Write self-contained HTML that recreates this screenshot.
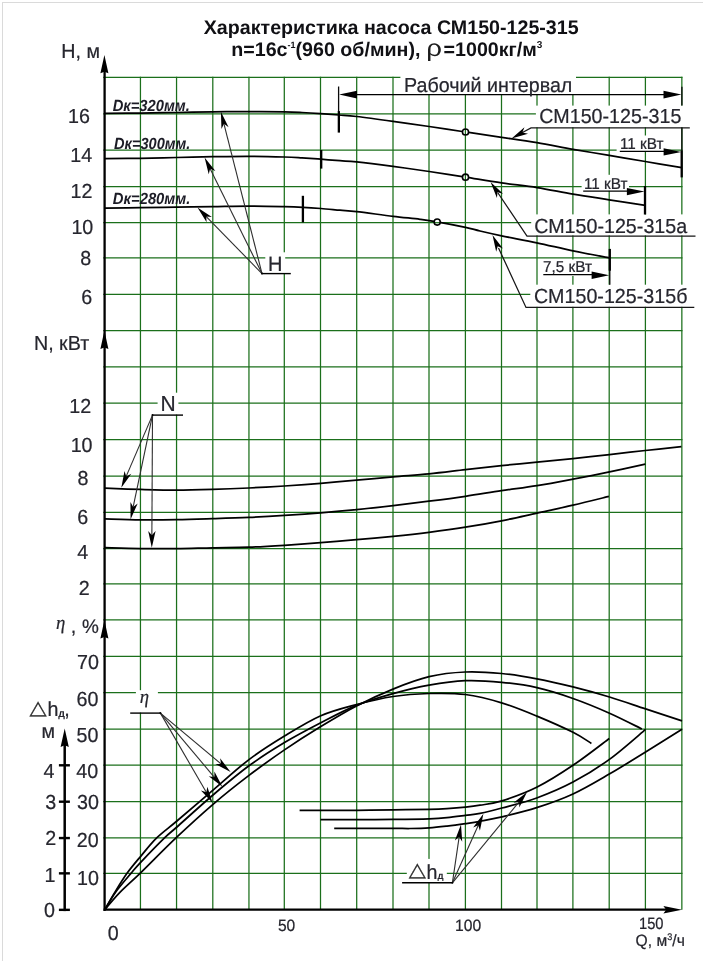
<!DOCTYPE html>
<html lang="ru">
<head>
<meta charset="utf-8">
<title>Характеристика насоса СМ150-125-315</title>
<style>
html,body{margin:0;padding:0;background:#fff;}
body{width:705px;height:963px;overflow:hidden;position:relative;font-family:"Liberation Sans",Arial,sans-serif;}
#chart{position:absolute;left:0;top:0;width:705px;height:963px;background:#fff;}
#chart svg{display:block;position:absolute;left:0;top:0;}
#frame{position:absolute;left:2px;top:2px;width:701px;height:959px;box-sizing:border-box;border-top:1px solid #dadada;border-left:1px solid #dadada;pointer-events:none;}
text{text-rendering:geometricPrecision;white-space:pre;}
</style>
</head>
<body>
<div id="chart">
<svg width="705" height="963" viewBox="0 0 705 963" role="img" aria-label="Характеристика насоса СМ150-125-315">
<g id="grid" stroke="#1b6f1b" stroke-width="1.25" fill="none"><line x1="140.45" y1="76.85" x2="140.45" y2="909.75"/><line x1="176.55" y1="76.85" x2="176.55" y2="909.75"/><line x1="212.80" y1="76.85" x2="212.80" y2="909.75"/><line x1="248.95" y1="76.85" x2="248.95" y2="909.75"/><line x1="284.30" y1="76.85" x2="284.30" y2="909.75"/><line x1="320.50" y1="76.85" x2="320.50" y2="909.75"/><line x1="356.70" y1="76.85" x2="356.70" y2="909.75"/><line x1="393.00" y1="76.85" x2="393.00" y2="909.75"/><line x1="429.00" y1="76.85" x2="429.00" y2="909.75"/><line x1="465.40" y1="76.85" x2="465.40" y2="909.75"/><line x1="501.50" y1="76.85" x2="501.50" y2="909.75"/><line x1="537.00" y1="76.85" x2="537.00" y2="909.75"/><line x1="572.90" y1="76.85" x2="572.90" y2="909.75"/><line x1="609.20" y1="76.85" x2="609.20" y2="909.75"/><line x1="645.40" y1="76.85" x2="645.40" y2="909.75"/><line x1="681.85" y1="76.85" x2="681.85" y2="909.75"/><line x1="103.25" y1="77.45" x2="682.45" y2="77.45"/><line x1="103.25" y1="113.85" x2="682.45" y2="113.85"/><line x1="103.25" y1="150.15" x2="682.45" y2="150.15"/><line x1="103.25" y1="186.55" x2="682.45" y2="186.55"/><line x1="103.25" y1="222.70" x2="682.45" y2="222.70"/><line x1="103.25" y1="257.90" x2="682.45" y2="257.90"/><line x1="103.25" y1="294.40" x2="682.45" y2="294.40"/><line x1="103.25" y1="330.70" x2="682.45" y2="330.70"/><line x1="103.25" y1="366.90" x2="682.45" y2="366.90"/><line x1="103.25" y1="403.20" x2="682.45" y2="403.20"/><line x1="103.25" y1="439.50" x2="682.45" y2="439.50"/><line x1="103.25" y1="476.00" x2="682.45" y2="476.00"/><line x1="103.25" y1="512.45" x2="682.45" y2="512.45"/><line x1="103.25" y1="548.60" x2="682.45" y2="548.60"/><line x1="103.25" y1="583.75" x2="682.45" y2="583.75"/><line x1="103.25" y1="619.95" x2="682.45" y2="619.95"/><line x1="103.25" y1="656.30" x2="682.45" y2="656.30"/><line x1="103.25" y1="692.65" x2="682.45" y2="692.65"/><line x1="103.25" y1="729.00" x2="682.45" y2="729.00"/><line x1="103.25" y1="765.20" x2="682.45" y2="765.20"/><line x1="103.25" y1="801.60" x2="682.45" y2="801.60"/><line x1="103.25" y1="837.95" x2="682.45" y2="837.95"/><line x1="103.25" y1="873.25" x2="682.45" y2="873.25"/></g>
<g id="masks" fill="#fff">
<rect x="400.40" y="74.00" width="175.60" height="20.00"/>
<rect x="535.90" y="105.60" width="154.10" height="21.70"/>
<rect x="531.20" y="214.40" width="159.80" height="21.00"/>
<rect x="530.30" y="284.70" width="160.70" height="22.10"/>
<rect x="616.60" y="135.50" width="47.40" height="15.50"/>
<rect x="581.60" y="174.80" width="47.40" height="16.00"/>
<rect x="541.50" y="259.50" width="51.50" height="16.50"/>
<rect x="265.30" y="252.30" width="19.90" height="20.70"/>
<rect x="157.60" y="392.70" width="20.80" height="21.90"/>
<rect x="135.90" y="690.20" width="22.00" height="22.40"/>
<rect x="406.80" y="858.90" width="40.00" height="23.40"/>
</g>
<g stroke="#0a0a0a" stroke-width="1.3">
<line x1="338.6" y1="86.5" x2="338.6" y2="112"/>
<line x1="681.9" y1="86.8" x2="681.9" y2="105.6"/>
<line x1="681.9" y1="127.6" x2="681.9" y2="151"/>
<line x1="609.8" y1="270" x2="609.8" y2="284.7"/>
</g>
<g id="curves" fill="none" stroke="#000" stroke-width="1.75" stroke-linejoin="round">
<path d="M105.00 113.40C110.90 113.35 128.47 113.25 140.40 113.10C152.33 112.95 164.55 112.72 176.60 112.50C188.65 112.28 200.63 111.95 212.70 111.80C224.77 111.65 237.07 111.58 249.00 111.60C260.93 111.62 275.47 111.75 284.30 111.90C293.13 112.05 295.95 112.22 302.00 112.50C308.05 112.78 314.43 113.18 320.60 113.60C326.77 114.02 332.98 114.52 339.00 115.00C345.02 115.48 347.70 115.45 356.70 116.50C365.70 117.55 380.92 119.63 393.00 121.30C405.08 122.97 417.12 124.72 429.20 126.50C441.28 128.28 453.43 130.20 465.50 132.00C477.57 133.80 489.68 135.52 501.60 137.30C513.52 139.08 525.10 140.70 537.00 142.70C548.90 144.70 560.97 147.18 573.00 149.30C585.03 151.42 597.15 153.37 609.20 155.40C621.25 157.43 633.20 159.47 645.30 161.50C657.40 163.53 675.72 166.58 681.80 167.60"/>
<path d="M105.00 158.70C110.90 158.63 128.47 158.50 140.40 158.30C152.33 158.10 164.55 157.77 176.60 157.50C188.65 157.23 200.63 156.90 212.70 156.70C224.77 156.50 237.07 156.25 249.00 156.30C260.93 156.35 275.47 156.73 284.30 157.00C293.13 157.27 295.92 157.53 302.00 157.90C308.08 158.27 314.47 158.73 320.80 159.20C327.13 159.67 334.02 160.25 340.00 160.70C345.98 161.15 347.87 160.95 356.70 161.90C365.53 162.85 380.92 164.80 393.00 166.40C405.08 168.00 417.12 169.70 429.20 171.50C441.28 173.30 453.43 175.30 465.50 177.20C477.57 179.10 489.68 181.17 501.60 182.90C513.52 184.63 525.10 185.73 537.00 187.60C548.90 189.47 560.97 192.07 573.00 194.10C585.03 196.13 597.15 197.92 609.20 199.80C621.25 201.68 639.28 204.47 645.30 205.40"/>
<path d="M105.00 208.10C110.90 208.03 128.47 207.85 140.40 207.70C152.33 207.55 164.55 207.38 176.60 207.20C188.65 207.02 200.63 206.80 212.70 206.60C224.77 206.40 237.07 206.00 249.00 206.00C260.93 206.00 275.33 206.38 284.30 206.60C293.27 206.82 296.72 206.98 302.80 207.30C308.88 207.62 314.60 208.02 320.80 208.50C327.00 208.98 334.02 209.68 340.00 210.20C345.98 210.72 347.87 210.58 356.70 211.60C365.53 212.62 382.45 215.02 393.00 216.30C403.55 217.58 412.67 218.38 420.00 219.30C427.33 220.22 429.42 220.47 437.00 221.80C444.58 223.13 458.33 225.77 465.50 227.30C472.67 228.83 473.98 229.58 480.00 231.00C486.02 232.42 492.13 233.83 501.60 235.80C511.07 237.77 524.90 240.30 536.80 242.80C548.70 245.30 560.90 248.28 573.00 250.80C585.10 253.32 603.33 256.72 609.40 257.90"/>
<path d="M105.00 488.20C110.90 488.40 128.47 489.08 140.40 489.40C152.33 489.72 164.57 490.10 176.60 490.10C188.63 490.10 200.57 489.75 212.60 489.40C224.63 489.05 236.83 488.57 248.80 488.00C260.77 487.43 272.42 486.78 284.40 486.00C296.38 485.22 308.67 484.27 320.70 483.30C332.73 482.33 344.52 481.28 356.60 480.20C368.68 479.12 381.15 477.85 393.20 476.80C405.25 475.75 416.87 475.08 428.90 473.90C440.93 472.72 453.30 471.08 465.40 469.70C477.50 468.32 489.57 466.85 501.50 465.60C513.43 464.35 525.08 463.37 537.00 462.20C548.92 461.03 560.92 459.87 573.00 458.60C585.08 457.33 597.45 455.95 609.50 454.60C621.55 453.25 633.32 451.83 645.30 450.50C657.28 449.17 675.38 447.25 681.40 446.60"/>
<path d="M105.00 518.90C110.90 519.07 128.47 519.77 140.40 519.90C152.33 520.03 164.57 519.90 176.60 519.70C188.63 519.50 200.57 519.08 212.60 518.70C224.63 518.32 236.83 517.95 248.80 517.40C260.77 516.85 272.42 516.17 284.40 515.40C296.38 514.63 308.67 513.77 320.70 512.80C332.73 511.83 344.52 510.80 356.60 509.60C368.68 508.40 381.15 507.00 393.20 505.60C405.25 504.20 416.87 502.75 428.90 501.20C440.93 499.65 453.30 498.05 465.40 496.30C477.50 494.55 489.57 492.48 501.50 490.70C513.43 488.92 525.08 487.53 537.00 485.60C548.92 483.67 560.92 481.38 573.00 479.10C585.08 476.82 597.45 474.38 609.50 471.90C621.55 469.42 639.33 465.48 645.30 464.20"/>
<path d="M105.00 547.70C110.90 547.85 128.47 548.45 140.40 548.60C152.33 548.75 164.57 548.73 176.60 548.60C188.63 548.47 200.57 548.03 212.60 547.80C224.63 547.57 236.83 547.62 248.80 547.20C260.77 546.78 272.42 546.05 284.40 545.30C296.38 544.55 308.67 543.63 320.70 542.70C332.73 541.77 344.52 540.77 356.60 539.70C368.68 538.63 381.15 537.53 393.20 536.30C405.25 535.07 416.87 533.82 428.90 532.30C440.93 530.78 453.30 529.12 465.40 527.20C477.50 525.28 489.57 523.15 501.50 520.80C513.43 518.45 525.08 515.70 537.00 513.10C548.92 510.50 561.02 507.98 573.00 505.20C584.98 502.42 602.92 497.87 608.90 496.40"/>
<path d="M105.00 909.40C106.63 906.57 111.10 898.45 114.80 892.40C118.50 886.35 122.85 879.15 127.20 873.10C131.55 867.05 135.98 861.97 140.90 856.10C145.82 850.23 150.70 843.75 156.70 837.90C162.70 832.05 167.52 828.97 176.90 821.00C186.28 813.03 200.98 800.33 213.00 790.10C225.02 779.87 237.08 768.60 249.00 759.60C260.92 750.60 272.53 743.40 284.50 736.10C296.47 728.80 308.80 721.05 320.80 715.80C332.80 710.55 344.47 707.82 356.50 704.60C368.53 701.38 380.90 698.35 393.00 696.50C405.10 694.65 417.05 693.83 429.10 693.50C441.15 693.17 453.22 692.95 465.30 694.50C477.38 696.05 489.67 699.20 501.60 702.80C513.53 706.40 525.00 711.18 536.90 716.10C548.80 721.02 563.92 727.75 573.00 732.30C582.08 736.85 588.33 741.55 591.40 743.40"/>
<path d="M105.00 909.40C106.73 906.57 111.03 898.45 115.40 892.40C119.77 886.35 126.95 878.15 131.20 873.10C135.45 868.05 135.35 867.97 140.90 862.10C146.45 856.23 158.50 843.75 164.50 837.90C170.50 832.05 168.82 834.15 176.90 827.00C184.98 819.85 200.98 805.20 213.00 795.00C225.02 784.80 237.08 774.53 249.00 765.80C260.92 757.07 272.53 749.77 284.50 742.60C296.47 735.43 308.80 729.00 320.80 722.80C332.80 716.60 344.47 710.25 356.50 705.40C368.53 700.55 380.90 697.07 393.00 693.70C405.10 690.33 417.05 687.37 429.10 685.20C441.15 683.03 453.22 681.18 465.30 680.70C477.38 680.22 489.67 681.13 501.60 682.30C513.53 683.47 525.00 685.00 536.90 687.70C548.80 690.40 560.90 694.25 573.00 698.50C585.10 702.75 598.02 708.12 609.50 713.20C620.98 718.28 636.50 726.37 641.90 729.00"/>
<path d="M105.00 909.40C107.48 906.57 114.02 898.45 119.90 892.40C125.78 886.35 130.87 882.27 140.30 873.10C149.73 863.93 164.38 848.87 176.50 837.40C188.62 825.93 200.92 814.63 213.00 804.30C225.08 793.97 237.08 784.47 249.00 775.40C260.92 766.33 272.53 758.03 284.50 749.90C296.47 741.77 308.80 733.92 320.80 726.60C332.80 719.28 344.47 712.25 356.50 706.00C368.53 699.75 380.90 693.98 393.00 689.10C405.10 684.22 417.05 679.55 429.10 676.70C441.15 673.85 453.22 672.53 465.30 672.00C477.38 671.47 489.67 672.37 501.60 673.50C513.53 674.63 525.00 676.57 536.90 678.80C548.80 681.03 560.90 683.87 573.00 686.90C585.10 689.93 597.40 693.33 609.50 697.00C621.60 700.67 633.52 704.92 645.60 708.90C657.68 712.88 675.93 718.90 682.00 720.90"/>
<path d="M299.60 810.30C303.07 810.32 310.88 810.38 320.40 810.40C329.92 810.42 344.60 810.50 356.70 810.40C368.80 810.30 380.92 809.98 393.00 809.80C405.08 809.62 420.20 809.50 429.20 809.30C438.20 809.10 440.95 808.97 447.00 808.60C453.05 808.23 460.00 807.67 465.50 807.10C471.00 806.53 473.93 806.23 480.00 805.20C486.07 804.17 492.45 803.88 501.90 800.90C511.35 797.92 524.85 793.23 536.70 787.30C548.55 781.37 560.90 773.43 573.00 765.30C585.10 757.17 603.25 742.97 609.30 738.50"/>
<path d="M320.50 819.60C326.53 819.60 344.62 819.63 356.70 819.60C368.78 819.57 380.92 819.53 393.00 819.40C405.08 819.27 420.20 819.08 429.20 818.80C438.20 818.52 440.95 818.27 447.00 817.70C453.05 817.13 460.00 816.12 465.50 815.40C471.00 814.68 473.93 814.63 480.00 813.40C486.07 812.17 492.45 810.57 501.90 808.00C511.35 805.43 524.85 802.32 536.70 798.00C548.55 793.68 560.88 788.53 573.00 782.10C585.12 775.67 597.30 768.18 609.40 759.40C621.50 750.62 639.57 734.40 645.60 729.40"/>
<path d="M334.20 828.30C337.95 828.30 346.90 828.30 356.70 828.30C366.50 828.30 384.12 828.27 393.00 828.30C401.88 828.33 403.97 828.57 410.00 828.50C416.03 828.43 423.03 828.30 429.20 827.90C435.37 827.50 440.95 826.82 447.00 826.10C453.05 825.38 460.00 824.40 465.50 823.60C471.00 822.80 473.93 822.42 480.00 821.30C486.07 820.18 492.45 819.17 501.90 816.90C511.35 814.63 524.85 811.52 536.70 807.70C548.55 803.88 560.90 799.60 573.00 794.00C585.10 788.40 597.20 781.10 609.30 774.10C621.40 767.10 633.48 759.47 645.60 752.00C657.72 744.53 675.93 733.08 682.00 729.30"/>
</g>
<circle cx="465.5" cy="132.0" r="3.2" fill="#fff"/>
<line x1="465.40" y1="129.00" x2="465.40" y2="135.00" stroke="#1b6f1b" stroke-width="1.25"/>
<circle cx="465.5" cy="132.0" r="3.05" fill="none" stroke="#000" stroke-width="1.6"/>
<circle cx="465.5" cy="177.2" r="3.2" fill="#fff"/>
<line x1="465.40" y1="174.20" x2="465.40" y2="180.20" stroke="#1b6f1b" stroke-width="1.25"/>
<circle cx="465.5" cy="177.2" r="3.05" fill="none" stroke="#000" stroke-width="1.6"/>
<circle cx="437.2" cy="222.1" r="3.2" fill="#fff"/>
<line x1="434.20" y1="222.70" x2="440.20" y2="222.70" stroke="#1b6f1b" stroke-width="1.25"/>
<circle cx="437.2" cy="222.1" r="3.05" fill="none" stroke="#000" stroke-width="1.6"/>
<line x1="338.85" y1="111.10" x2="338.85" y2="132.60" stroke="#000" stroke-width="2.30"/>
<line x1="321.20" y1="150.00" x2="321.20" y2="168.60" stroke="#000" stroke-width="2.30"/>
<line x1="302.90" y1="195.80" x2="302.90" y2="222.40" stroke="#000" stroke-width="2.30"/>
<line x1="681.70" y1="150.60" x2="681.70" y2="177.40" stroke="#000" stroke-width="2.30"/>
<line x1="645.00" y1="186.00" x2="645.00" y2="214.50" stroke="#000" stroke-width="2.30"/>
<line x1="609.80" y1="248.90" x2="609.80" y2="270.70" stroke="#000" stroke-width="2.30"/>
<line x1="350" y1="94.6" x2="670" y2="94.6" stroke="#000" stroke-width="1.3"/>
<polygon points="339.10,94.60 357.00,90.80 357.00,94.60 357.00,98.40" fill="#000"/>
<polygon points="681.40,94.60 663.50,98.40 663.50,94.60 663.50,90.80" fill="#000"/>
<polyline points="689.8,127.9 531.0,127.9 522.0,132.8" fill="none" stroke="#161616" stroke-width="1.25"/>
<polygon points="511.50,138.60 524.45,127.27 522.40,132.62 528.01,133.76" fill="#000"/>
<polyline points="695.5,236.0 527.0,236.0 498.0,193.0" fill="none" stroke="#161616" stroke-width="1.25"/>
<polygon points="490.60,182.00 503.06,193.86 497.55,192.31 496.92,198.00" fill="#000"/>
<polyline points="694.3,307.4 526.0,307.4 498.5,247.9" fill="none" stroke="#161616" stroke-width="1.25"/>
<polygon points="492.50,234.90 502.91,248.60 497.71,246.19 496.19,251.70" fill="#000"/>
<line x1="619.8" y1="151.4" x2="667.2" y2="151.4" stroke="#000" stroke-width="1.3"/>
<polygon points="681.20,151.90 663.60,155.60 663.60,151.90 663.60,148.20" fill="#000"/>
<line x1="583.2" y1="191.2" x2="630.5" y2="191.2" stroke="#000" stroke-width="1.3"/>
<polygon points="644.50,191.60 626.90,195.30 626.90,191.60 626.90,187.90" fill="#000"/>
<line x1="543.3" y1="274.7" x2="595.2" y2="274.7" stroke="#000" stroke-width="1.3"/>
<polygon points="609.20,275.30 591.60,279.00 591.60,275.30 591.60,271.60" fill="#000"/>
<line x1="261.3" y1="273.6" x2="290.8" y2="273.6" stroke="#000" stroke-width="1.4"/>
<line x1="262.00" y1="273.60" x2="223.56" y2="122.27" stroke="#2e2e2e" stroke-width="1.10"/><polygon points="220.90,111.80 228.62,127.17 223.96,123.85 221.45,128.99" fill="#000"/>
<line x1="262.00" y1="273.60" x2="209.39" y2="167.28" stroke="#2e2e2e" stroke-width="1.10"/><polygon points="204.60,157.60 215.37,171.02 210.11,168.74 208.73,174.30" fill="#000"/>
<line x1="262.00" y1="273.60" x2="205.05" y2="215.32" stroke="#2e2e2e" stroke-width="1.10"/><polygon points="197.50,207.60 211.89,217.03 206.19,216.49 206.60,222.20" fill="#000"/>
<circle cx="262.0" cy="273.6" r="1.0" fill="#000"/>
<line x1="152.3" y1="415.1" x2="183.0" y2="415.1" stroke="#000" stroke-width="1.4"/>
<line x1="152.50" y1="415.10" x2="125.56" y2="477.88" stroke="#2e2e2e" stroke-width="1.10"/><polygon points="121.30,487.80 124.53,470.90 126.20,476.38 131.33,473.82" fill="#000"/>
<line x1="152.50" y1="415.10" x2="132.82" y2="508.63" stroke="#2e2e2e" stroke-width="1.10"/><polygon points="130.60,519.20 130.44,502.00 133.16,507.03 137.68,503.52" fill="#000"/>
<line x1="152.50" y1="415.10" x2="151.86" y2="537.00" stroke="#2e2e2e" stroke-width="1.10"/><polygon points="151.80,547.80 148.19,530.98 151.87,535.37 155.59,531.02" fill="#000"/>
<circle cx="152.5" cy="415.1" r="1.0" fill="#000"/>
<line x1="130.2" y1="713.1" x2="160.4" y2="713.1" stroke="#000" stroke-width="1.4"/>
<line x1="160.40" y1="713.10" x2="222.32" y2="764.97" stroke="#2e2e2e" stroke-width="1.10"/><polygon points="230.60,771.90 215.35,763.95 221.07,763.92 220.10,758.28" fill="#000"/>
<line x1="160.40" y1="713.10" x2="215.45" y2="778.54" stroke="#2e2e2e" stroke-width="1.10"/><polygon points="222.40,786.80 208.75,776.33 214.40,777.29 214.42,771.56" fill="#000"/>
<line x1="160.40" y1="713.10" x2="207.18" y2="793.76" stroke="#2e2e2e" stroke-width="1.10"/><polygon points="212.60,803.10 200.97,790.42 206.36,792.35 207.37,786.71" fill="#000"/>
<circle cx="160.4" cy="713.1" r="1.0" fill="#000"/>
<line x1="402.1" y1="882.8" x2="452.5" y2="882.8" stroke="#000" stroke-width="1.4"/>
<line x1="452.40" y1="882.80" x2="459.42" y2="835.18" stroke="#2e2e2e" stroke-width="1.10"/><polygon points="461.00,824.50 462.21,841.66 459.19,836.80 454.89,840.58" fill="#000"/>
<line x1="452.40" y1="882.80" x2="478.97" y2="823.65" stroke="#2e2e2e" stroke-width="1.10"/><polygon points="483.40,813.80 479.89,830.64 478.31,825.14 473.14,827.61" fill="#000"/>
<line x1="452.40" y1="882.80" x2="520.23" y2="800.44" stroke="#2e2e2e" stroke-width="1.10"/><polygon points="527.10,792.10 519.28,807.42 519.20,801.70 513.56,802.72" fill="#000"/>
<circle cx="452.4" cy="882.8" r="1.0" fill="#000"/>
<line x1="104.6" y1="70" x2="104.6" y2="910.9" stroke="#000" stroke-width="2.3"/>
<line x1="103.5" y1="909.7" x2="668" y2="909.7" stroke="#000" stroke-width="2.25"/>
<polygon points="104.40,55.00 108.40,73.30 104.40,71.84 100.40,73.30" fill="#000"/>
<polygon points="104.40,330.60 108.40,348.90 104.40,347.44 100.40,348.90" fill="#000"/>
<polygon points="104.40,620.10 108.40,638.40 104.40,636.94 100.40,638.40" fill="#000"/>
<polygon points="682.00,909.70 663.40,913.50 666.19,909.70 663.40,905.90" fill="#000"/>
<line x1="64.7" y1="742" x2="64.7" y2="911.1" stroke="#000" stroke-width="2.5"/>
<polygon points="64.70,728.40 68.80,747.10 64.70,745.23 60.60,747.10" fill="#000"/>
<line x1="58.9" y1="765.30" x2="69.9" y2="765.30" stroke="#000" stroke-width="2.4"/>
<line x1="58.9" y1="801.70" x2="69.9" y2="801.70" stroke="#000" stroke-width="2.4"/>
<line x1="58.9" y1="838.05" x2="69.9" y2="838.05" stroke="#000" stroke-width="2.4"/>
<line x1="58.9" y1="873.35" x2="69.9" y2="873.35" stroke="#000" stroke-width="2.4"/>
<line x1="58.9" y1="909.85" x2="69.9" y2="909.85" stroke="#000" stroke-width="2.4"/>
<g id="labels" font-family="'Liberation Sans',Arial,sans-serif" fill="#26262e" stroke="#26262e" stroke-width="0.22" stroke-linejoin="round">
<g stroke="none">
<text x="203.74" y="34.40" font-size="19.65" font-weight="bold" fill="#101014" stroke="none">Характеристика насоса СМ150-125-315</text>
<text x="231.3" y="55.9" font-size="19.65" font-weight="bold" fill="#101014">n=16c<tspan font-size="9" dy="-8">-1</tspan><tspan dy="8">(960 об/мин),</tspan></text>
<text transform="translate(426.3 56.0) scale(1.17 1)" font-size="23.6" fill="#1c1c1c">ρ</text>
<text x="443.6" y="55.9" font-size="19.65" font-weight="bold" fill="#101014">=1000кг/м<tspan font-size="10" dy="-7.5">3</tspan></text>
</g>
<text transform="translate(61.35 57.50) scale(0.9680 1)" font-size="20.35">Н, м</text>
<text transform="translate(68.00 123.00) scale(0.9680 1)" font-size="20.35">16</text>
<text transform="translate(70.35 161.60) scale(0.9680 1)" font-size="20.35">14</text>
<text transform="translate(70.57 197.80) scale(0.9680 1)" font-size="20.35">12</text>
<text transform="translate(71.40 234.00) scale(0.9680 1)" font-size="20.35">10</text>
<text transform="translate(80.18 265.40) scale(0.9680 1)" font-size="20.35">8</text>
<text transform="translate(81.21 304.30) scale(0.9680 1)" font-size="20.35">6</text>
<text transform="translate(33.91 349.50) scale(0.9680 1)" font-size="20.35">N, кВт</text>
<text transform="translate(69.32 412.70) scale(0.9680 1)" font-size="20.35">12</text>
<text transform="translate(70.65 452.00) scale(0.9680 1)" font-size="20.35">10</text>
<text transform="translate(77.48 484.70) scale(0.9680 1)" font-size="20.35">8</text>
<text transform="translate(77.26 523.60) scale(0.9680 1)" font-size="20.35">6</text>
<text transform="translate(77.28 558.80) scale(0.9680 1)" font-size="20.35">4</text>
<text transform="translate(78.63 595.40) scale(0.9680 1)" font-size="20.35">2</text>
<text transform="translate(55.89 629.40) scale(0.9680 1)" font-size="19.42" font-style="italic" font-family="'Liberation Serif','Times New Roman',serif">η</text>
<text transform="translate(70.77 632.60) scale(0.9680 1)" font-size="20.35">,</text>
<text transform="translate(81.90 632.90) scale(0.9680 1)" font-size="19.63">%</text>
<text transform="translate(77.09 668.60) scale(0.9680 1)" font-size="20.35">70</text>
<text transform="translate(76.44 706.30) scale(0.9680 1)" font-size="20.35">60</text>
<text transform="translate(76.54 741.70) scale(0.9680 1)" font-size="20.35">50</text>
<text transform="translate(76.36 778.00) scale(0.9680 1)" font-size="20.35">40</text>
<text transform="translate(76.97 809.40) scale(0.9680 1)" font-size="20.35">30</text>
<text transform="translate(76.69 846.80) scale(0.9680 1)" font-size="20.35">20</text>
<text transform="translate(77.10 884.70) scale(0.9680 1)" font-size="20.35">10</text>
<text transform="translate(29.60 716.20) scale(1 0.8736)" x="-0.06" y="-2.73" font-family="'DejaVu Sans','Liberation Sans',sans-serif" font-size="22.30" fill="#2a2a2a" stroke="#2a2a2a" stroke-width="0.25">△</text>
<text transform="translate(47.51 716.10) scale(0.9680 1)" font-size="20.35">h</text>
<text transform="translate(58.17 717.00) scale(0.9680 1)" font-size="10.85" font-weight="bold" stroke="none">д</text>
<text transform="translate(64.27 716.10) scale(0.9680 1)" font-size="20.35">,</text>
<text transform="translate(41.60 737.90) scale(0.9680 1)" font-size="20.35">м</text>
<text transform="translate(43.38 777.50) scale(0.9680 1)" font-size="20.35">4</text>
<text transform="translate(45.18 809.10) scale(0.9680 1)" font-size="20.35">3</text>
<text transform="translate(45.28 844.60) scale(0.9680 1)" font-size="20.35">2</text>
<text transform="translate(44.51 882.00) scale(0.9680 1)" font-size="20.35">1</text>
<text transform="translate(44.11 917.00) scale(0.9680 1)" font-size="20.35">0</text>
<text transform="translate(107.66 939.50) scale(0.9680 1)" font-size="20.35">0</text>
<text transform="translate(277.88 930.50) scale(0.9508 1)" font-size="16.40">50</text>
<text transform="translate(455.02 931.40) scale(0.9568 1)" font-size="16.40">100</text>
<text transform="translate(639.00 929.20) scale(0.8980 1)" font-size="16.40">150</text>
<text transform="translate(635.6 946.1) scale(0.955 1)" font-size="16.4">Q, м<tspan font-size="9.5" dy="-6.3">3</tspan><tspan dy="6.3">/ч</tspan></text>
<text transform="translate(112.64 110.70) scale(0.9100 1)" font-size="16.20" font-weight="bold" font-style="italic" fill="#1c1c26" stroke="none">Dк=320мм.</text>
<text transform="translate(114.04 149.20) scale(0.9004 1)" font-size="16.20" font-weight="bold" font-style="italic" fill="#1c1c26" stroke="none">Dк=300мм.</text>
<text transform="translate(112.84 203.50) scale(0.9136 1)" font-size="16.20" font-weight="bold" font-style="italic" fill="#1c1c26" stroke="none">Dк=280мм.</text>
<text transform="translate(404.11 91.60) scale(0.9680 1)" font-size="20.35">Рабочий интервал</text>
<text transform="translate(539.29 123.20) scale(0.9680 1)" font-size="20.35">СМ150-125-315</text>
<text transform="translate(534.15 232.70) scale(0.9680 1)" font-size="20.35">СМ150-125-315а</text>
<text transform="translate(534.07 303.00) scale(0.9680 1)" font-size="20.35">СМ150-125-315б</text>
<text transform="translate(620.00 149.30) scale(0.9680 1)" font-size="15.80">11 кВт</text>
<text transform="translate(583.90 189.10) scale(0.9680 1)" font-size="15.80">11 кВт</text>
<text transform="translate(542.99 272.30) scale(0.9680 1)" font-size="15.80">7,5 кВт</text>
<text transform="translate(267.88 270.50) scale(0.9680 1)" font-size="20.66">Н</text>
<text transform="translate(160.61 411.00) scale(0.9680 1)" font-size="21.69">N</text>
<text transform="translate(139.64 702.60) scale(0.9680 1)" font-size="19.42" font-style="italic" font-family="'Liberation Serif','Times New Roman',serif">η</text>
<text transform="translate(408.70 878.80) scale(1 0.8736)" x="-0.06" y="-2.73" font-family="'DejaVu Sans','Liberation Sans',sans-serif" font-size="22.30" fill="#2a2a2a" stroke="#2a2a2a" stroke-width="0.25">△</text>
<text transform="translate(426.61 878.70) scale(0.9680 1)" font-size="20.35">h</text>
<text transform="translate(437.55 879.00) scale(0.9680 1)" font-size="9.92" font-weight="bold" stroke="none">д</text>
</g>
</svg>
<div id="frame"></div>
</div>
</body>
</html>
